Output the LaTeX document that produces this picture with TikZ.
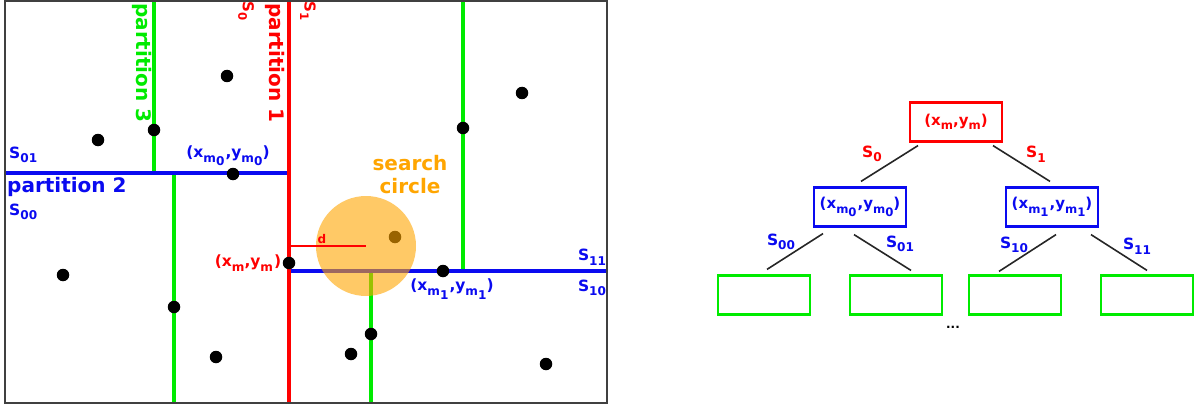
\documentclass[tikz,border=0pt]{standalone}
\usepackage{fontspec}
\setmainfont{DejaVu Sans}
\makeatletter
\newdimen\mysubdim
\newcommand{\dn}[1]{\mysubdim=\f@size pt\mysubdim=0.78\mysubdim\raisebox{-0.3em}{\fontsize{\strip@pt\mysubdim}{\strip@pt\mysubdim}\selectfont #1}}
\newcommand{\dnn}[1]{\raisebox{-0.3em}{#1}}
\makeatother
\definecolor{pgreen}{RGB}{0,235,0}
\definecolor{pblue}{RGB}{10,10,240}
\definecolor{pred}{RGB}{255,0,0}
\definecolor{porange}{RGB}{255,165,0}
\tikzset{
  dot/.style={circle,fill=black,inner sep=0pt,minimum size=12.5pt},
  lbl/.style={inner sep=0pt,font=\fontsize{15.5}{18}\selectfont\bfseries},
  sml/.style={inner sep=0pt,font=\fontsize{15}{17}\selectfont\bfseries},
  big/.style={inner sep=0pt,font=\fontsize{20}{24}\selectfont\bfseries},
  partline/.style={line width=4pt},
  tbox/.style={draw,line width=2.2pt,minimum width=92pt,minimum height=39pt,inner sep=0pt,font=\fontsize{15}{18}\selectfont\bfseries},
  tedge/.style={line width=1.6pt,black!85}
}
\begin{document}
\begin{tikzpicture}[x=1pt,y=-1pt]
\useasboundingbox (0,0) rectangle (1203,412);
% ---------- left: partitioned plane ----------
\draw[partline,pgreen] (154,1) -- (154,173);
\draw[partline,pgreen] (174,173) -- (174,403);
\draw[partline,pgreen] (463,1) -- (463,271);
\draw[partline,pgreen] (371,271) -- (371,403);
\draw[partline,pblue] (5,173) -- (289,173);
\draw[partline,pblue] (289,271) -- (607,271);
\draw[partline,pred] (289,1) -- (289,403);
\draw[line width=2pt,black!75] (5,1) rectangle (607,403);
% points
\foreach \p/\q [count=\i] in {227/76,98/140,154/130,233/174,522/93,463/128,63/275,174/307,216/357,289/263,395/237,443/271,371/334,351/354,546/364}
  \node[dot] (p\i) at (\p,\q) {};
% search circle
\fill[porange,opacity=0.6] (366,246) circle[radius=50pt];
\draw[pred,line width=2pt] (289,246) -- (366,246);
\node[inner sep=0pt,text=pred,font=\fontsize{12}{14}\selectfont\bfseries] (dl) at (322,239) {d};
\node[big,text=porange,align=center] (sc) at (410,175) {search\\[-1pt]circle};
% rotated labels
\node[big,text=pgreen,rotate=-90] (pt3) at (142,63) {partition 3};
\node[big,text=pred,rotate=-90] (pt1) at (275,63) {partition 1};
\node[sml,text=pred,rotate=-90] (s0) at (246,11) {S\dn{0}};
\node[sml,text=pred,rotate=-90] (s1) at (308,11) {S\dn{1}};
% blue labels
\node[lbl,text=pblue,anchor=west] (s01) at (9,155) {S\dn{01}};
\node[big,text=pblue,anchor=west] (pt2) at (7,187) {partition 2};
\node[lbl,text=pblue,anchor=west] (s00) at (9,212) {S\dn{00}};
\node[lbl,text=pblue] (m0) at (228,156) {(x\dn{m\dnn{0}}\kern1pt,y\dn{m\dnn{0}})};
\node[lbl,text=pred] (m) at (248,263) {(x\dn{m},y\dn{m}\kern1pt)};
\node[lbl,text=pblue] (m1) at (452,289) {(x\dn{m\dnn{1}}\kern1pt,y\dn{m\dnn{1}})};
\node[lbl,text=pblue] (s11) at (592,257) {S\dn{11}};
\node[lbl,text=pblue] (s10) at (592,288) {S\dn{10}};
% ---------- right: tree ----------
\node[tbox,draw=pred,text=pred] (root) at (956,122) {(x\dn{m},y\dn{m})};
\node[tbox,draw=pblue,text=pblue] (lft) at (860,207) {(x\dn{m\dnn{0}}\kern1pt,y\dn{m\dnn{0}})};
\node[tbox,draw=pblue,text=pblue] (rgt) at (1052,207) {(x\dn{m\dnn{1}}\kern1pt,y\dn{m\dnn{1}})};
\node[tbox,draw=pgreen] (l1) at (764,295) {};
\node[tbox,draw=pgreen] (l2) at (896,295) {};
\node[tbox,draw=pgreen] (l3) at (1015,295) {};
\node[tbox,draw=pgreen] (l4) at (1147,295) {};
\draw[tedge] ([xshift=-38pt,yshift=-3pt]root.south) -- ([xshift=1pt,yshift=5pt]lft.north);
\draw[tedge] ([xshift=37pt,yshift=-3pt]root.south) -- ([xshift=-2pt,yshift=5pt]rgt.north);
\draw[tedge] ([xshift=-37pt,yshift=-6pt]lft.south) -- ([xshift=3pt,yshift=5pt]l1.north);
\draw[tedge] ([xshift=-6pt,yshift=-7pt]lft.south) -- ([xshift=15pt,yshift=4pt]l2.north);
\draw[tedge] ([xshift=4pt,yshift=-7pt]rgt.south) -- ([xshift=-16pt,yshift=3pt]l3.north);
\draw[tedge] ([xshift=39pt,yshift=-7pt]rgt.south) -- ([yshift=4pt]l4.north);
\node[lbl,text=pred] (e0) at (872,154) {S\dn{0}};
\node[lbl,text=pred] (e1) at (1036,154) {S\dn{1}};
\node[lbl,text=pblue] (e00) at (781,242) {S\dn{00}};
\node[lbl,text=pblue] (e01) at (900,244) {S\dn{01}};
\node[lbl,text=pblue] (e10) at (1014,245) {S\dn{10}};
\node[lbl,text=pblue] (e11) at (1137,246) {S\dn{11}};
\node[inner sep=0pt,font=\fontsize{12}{14}\selectfont\bfseries] (dots) at (953,327) {...};
\end{tikzpicture}
\end{document}
